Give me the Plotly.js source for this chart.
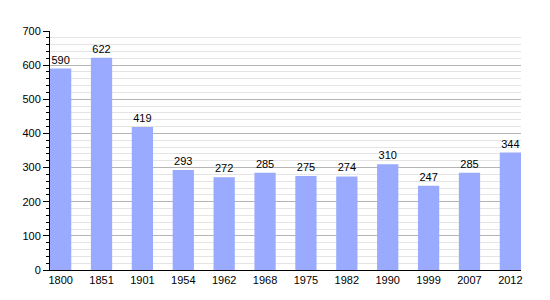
<!DOCTYPE html>
<html>
<head>
<meta charset="utf-8">
<script src="https://cdn.plot.ly/plotly-3.0.1.min.js"></script>
<style>html,body{margin:0;padding:0;background:#fff;}#chart{width:550px;height:300px;}</style>
</head>
<body>
<div id="chart"></div>
<script>
const years = ["1800","1851","1901","1954","1962","1968","1975","1982","1990","1999","2007","2012"];
const population = [590,622,419,293,272,285,275,274,310,247,285,344];

const trace = {
  type: 'bar',
  x: years,
  y: population,
  width: 0.52,
  marker: {color: '#99aaff', line: {width: 0}},
  text: population.map(String),
  textposition: 'outside',
  textfont: {family: 'Liberation Sans, Arial, sans-serif', size: 11, color: '#000'},
  cliponaxis: false,
  hoverinfo: 'none'
};

const layout = {
  width: 550, height: 300,
  margin: {l: 50, r: 29, t: 31, b: 30},
  paper_bgcolor: '#fff', plot_bgcolor: '#fff',
  showlegend: false,
  font: {family: 'Liberation Sans, Arial, sans-serif', size: 11, color: '#000'},
  xaxis: {
    type: 'category',
    range: [-0.26, 11.26],
    showline: true, linecolor: '#000', linewidth: 1,
    showgrid: false, ticks: '', zeroline: false,
    tickfont: {size: 11, color: '#000'},
    fixedrange: true
  },
  yaxis: {
    range: [0, 700],
    dtick: 100,
    showline: true, linecolor: '#000', linewidth: 1,
    ticks: 'outside', ticklen: 6, tickcolor: '#000', tickwidth: 1,
    showgrid: true, gridcolor: '#b4b4b4', gridwidth: 1,
    zeroline: false,
    tickfont: {size: 11, color: '#000'},
    minor: {dtick: 20, showgrid: true, gridcolor: '#e4e4e4', gridwidth: 1, ticks: 'outside', ticklen: 3, tickcolor: '#000'},
    fixedrange: true
  }
};

Plotly.newPlot('chart', [trace], layout, {staticPlot: true, displayModeBar: false});
</script>
</body>
</html>
